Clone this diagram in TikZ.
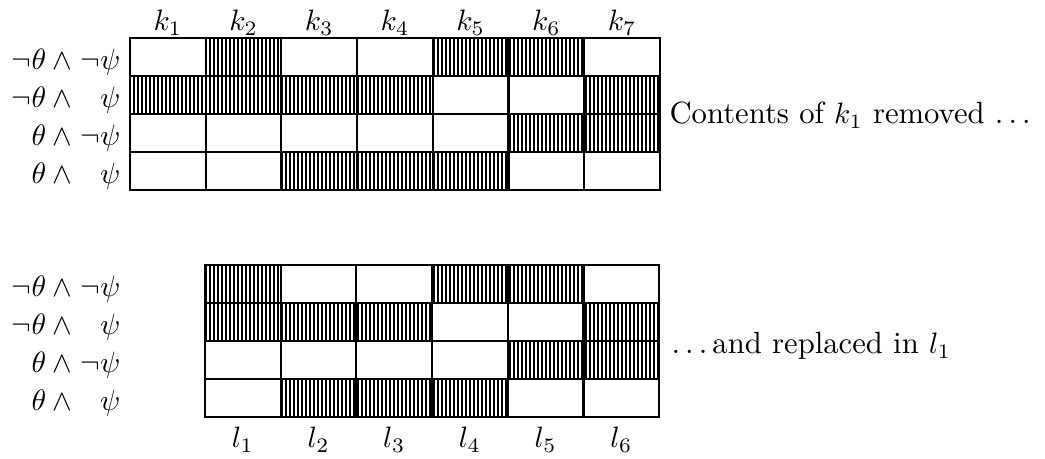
\documentclass[tikz,border=0pt]{standalone}
% three spaced full stops, as the classic text ellipsis
\newcommand\tdots{.\kern\fontdimen3\font.\kern\fontdimen3\font.\kern\fontdimen3\font}
\begin{document}
\begin{tikzpicture}[x=0.339pt, y=-0.339pt,
  font=\fontsize{10.4}{12.5}\selectfont,
  cell/.style={draw, line width=0.7pt, minimum width=25.66pt, minimum height=12.85pt,
    inner sep=0pt, outer sep=0pt, anchor=north west},
  stripe/.style={line width=0.8pt},
  collab/.style={anchor=base, inner sep=0pt},
  rowlab/.style={anchor=base east, inner sep=0pt},
  note/.style={anchor=base west, inner sep=0pt},
]
\useasboundingbox (0,0) rectangle (1045,459);

% upper grid: worlds k_1 ... k_7 (1 = hatched cell)
\foreach \bits [count=\r] in {{0,1,0,0,1,1,0},{1,1,1,1,0,0,1},{0,0,0,0,0,1,1},{0,0,1,1,1,0,0}}
  \foreach \b [count=\c] in \bits {
    \pgfmathsetmacro\xa{130+(\c-1)*75.7}
    \pgfmathsetmacro\ya{38+(\r-1)*37.9}
    \ifnum\b=1
      \pgfmathtruncatemacro\ka{floor(\xa/4)}
      \pgfmathtruncatemacro\kb{ceil((\xa+75.7)/4)}
      \begin{scope}
        \clip (\xa,\ya) rectangle ++(75.7,37.9);
        \foreach \k in {\ka,...,\kb} \draw[stripe] (4*\k+2,\ya) -- ++(0,37.9);
      \end{scope}
    \fi
    \node[cell] (k\c r\r) at (\xa,\ya) {};
  }
\foreach \c in {1,...,7}
  \node[collab] (hk\c) at ({130+(\c-0.5)*75.7},31) {$k_{\c}$};

% lower grid: worlds l_1 ... l_6 (1 = hatched cell)
\foreach \bits [count=\r] in {{1,0,0,1,1,0},{1,1,1,0,0,1},{0,0,0,0,1,1},{0,1,1,1,0,0}}
  \foreach \b [count=\c] in \bits {
    \pgfmathsetmacro\xa{205+(\c-1)*75.7}
    \pgfmathsetmacro\ya{265+(\r-1)*37.9}
    \ifnum\b=1
      \pgfmathtruncatemacro\ka{floor(\xa/4)}
      \pgfmathtruncatemacro\kb{ceil((\xa+75.7)/4)}
      \begin{scope}
        \clip (\xa,\ya) rectangle ++(75.7,37.9);
        \foreach \k in {\ka,...,\kb} \draw[stripe] (4*\k+2,\ya) -- ++(0,37.9);
      \end{scope}
    \fi
    \node[cell] (l\c r\r) at (\xa,\ya) {};
  }
\foreach \c in {1,...,6}
  \node[collab] (hl\c) at ({205+(\c-0.5)*75.7},448) {$l_{\c}$};

% row labels for both grids
\foreach \g/\y in {t/70, b/297} {
  \node[rowlab] (\g a1) at (73,\y)      {$\neg\theta\mskip\medmuskip\wedge$};
  \node[rowlab] (\g b1) at (121,\y)     {$\neg\psi$};
  \node[rowlab] (\g a2) at (73,\y+38)   {$\neg\theta\mskip\medmuskip\wedge$};
  \node[rowlab] (\g b2) at (121,\y+38)  {$\psi$};
  \node[rowlab] (\g a3) at (73,\y+76)   {$\theta\mskip\medmuskip\wedge$};
  \node[rowlab] (\g b3) at (121,\y+76)  {$\neg\psi$};
  \node[rowlab] (\g a4) at (73,\y+114)  {$\theta\mskip\medmuskip\wedge$};
  \node[rowlab] (\g b4) at (121,\y+114) {$\psi$};
}

% side remarks
\node[note] (rem1) at (669,124) {Contents of $k_1$ removed \tdots};
\node[note] (rem2) at (671,354) {\tdots and replaced in $l_1$};
\end{tikzpicture}
\end{document}
